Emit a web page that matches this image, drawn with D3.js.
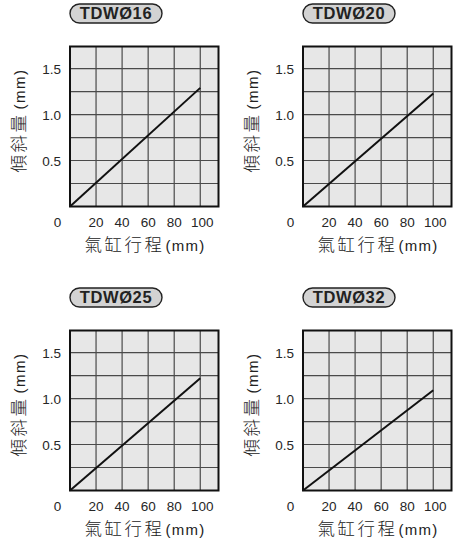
<!DOCTYPE html>
<html><head><meta charset="utf-8">
<script src="https://cdn.jsdelivr.net/npm/d3@7"></script>
<style>html,body{margin:0;padding:0;background:#fff;}svg{display:block;}</style>
</head><body>
<svg id="c" width="456" height="540"></svg>
<script>
// ---- data ----
const models = ["TDWØ16", "TDWØ20", "TDWØ25", "TDWØ32"];
const stroke = [0, 100];                 // 氣缸行程 (mm)
const tilt16 = [0, 1.29];                // 傾斜量 (mm)
const tilt20 = [0, 1.23];
const tilt25 = [0, 1.22];
const tilt32 = [0, 1.09];
const seriesList = [tilt16, tilt20, tilt25, tilt32];
const xTicks = [20, 40, 60, 80, 100];
const yGrid = [0.25, 0.5, 0.75, 1.0, 1.25, 1.5];
const yLabels = [0.5, 1.0, 1.5];
const xTitle = "氣缸行程";
const yTitle = "傾斜量";
const unit = "(mm)";

// ---- layout ----
const svg = d3.select("#c");
const W = 148.5, H = 160;
const origins = [[70, 46.5], [303, 46.5], [70, 330.5], [303, 330.5]];
const font = "'Liberation Sans', Arial, sans-serif";
const cjk = "'Noto Sans CJK TC', 'Noto Sans CJK SC', sans-serif";

models.forEach((name, i) => {
  const [L, T] = origins[i];
  const x = d3.scaleLinear().domain([0, 114]).range([L, L + W]);
  const y = d3.scaleLinear().domain([0, 1.74]).range([T + H, T]);
  const g = svg.append("g");

  // background
  g.append("rect").attr("x", L).attr("y", T).attr("width", W).attr("height", H)
    .attr("fill", "#e7e7e7");

  // grid
  g.selectAll(".vg").data(xTicks).join("line")
    .attr("x1", d => x(d)).attr("x2", d => x(d)).attr("y1", T).attr("y2", T + H)
    .attr("stroke", "#4a4a4a").attr("stroke-width", 1.2);
  g.selectAll(".hg").data(yGrid).join("line")
    .attr("y1", d => y(d)).attr("y2", d => y(d)).attr("x1", L).attr("x2", L + W)
    .attr("stroke", "#4a4a4a").attr("stroke-width", 1.2);

  // data line
  const pts = stroke.map((s, k) => [s, seriesList[i][k]]);
  g.append("path").datum(pts)
    .attr("d", d3.line().x(d => x(d[0])).y(d => y(d[1])))
    .attr("fill", "none").attr("stroke", "#111").attr("stroke-width", 2);

  // border
  g.append("rect").attr("x", L).attr("y", T).attr("width", W).attr("height", H)
    .attr("fill", "none").attr("stroke", "#111").attr("stroke-width", 2);

  // x tick labels
  g.selectAll(".xt").data(xTicks).join("text")
    .attr("x", d => x(d) + (d === 100 ? 2 : 0)).attr("y", y(0) + 20.3)
    .attr("text-anchor", "middle").attr("font-family", font).attr("font-size", 13.5)
    .attr("fill", "#262626").text(d => d);
  // origin label
  g.append("text").attr("x", x(0) - 12.5).attr("y", y(0) + 20.3)
    .attr("text-anchor", "middle").attr("font-family", font).attr("font-size", 13.5)
    .attr("fill", "#262626").text("0");

  // y tick labels
  g.selectAll(".yt").data(yLabels).join("text")
    .attr("x", L - 9).attr("y", d => y(d)).attr("dy", "0.4em")
    .attr("text-anchor", "end").attr("font-family", font).attr("font-size", 13.5)
    .attr("fill", "#262626").text(d => d.toFixed(1));

  // x title
  const xt = g.append("text").attr("x", L + 75).attr("y", y(0) + 44)
    .attr("text-anchor", "middle").attr("fill", "#222");
  xt.append("tspan").attr("font-family", cjk).attr("font-size", 17.5)
    .attr("font-weight", 300).attr("letter-spacing", 2.5).text(xTitle);
  xt.append("tspan").attr("font-family", font).attr("font-size", 15)
    .attr("letter-spacing", 1.2).attr("dx", 1).text(unit);

  // y title
  const cy = T + H / 2 - 6;
  const yt = g.append("text")
    .attr("transform", `translate(${L - 51},${cy}) rotate(-90)`)
    .attr("text-anchor", "middle").attr("dy", "0.36em").attr("fill", "#222");
  yt.append("tspan").attr("font-family", cjk).attr("font-size", 17.5)
    .attr("font-weight", 300).attr("letter-spacing", 2.5).text(yTitle);
  yt.append("tspan").attr("font-family", font).attr("font-size", 15)
    .attr("letter-spacing", 1.5).attr("dx", 3).text(unit);

  // model pill
  const pw = 92, ph = 19, pcy = T - 33;
  g.append("rect").attr("x", L).attr("y", pcy - ph / 2).attr("width", pw).attr("height", ph)
    .attr("rx", ph / 2).attr("ry", ph / 2)
    .attr("fill", "#d3d3d3").attr("stroke", "#222").attr("stroke-width", 1.4);
  g.append("text").attr("x", L + pw / 2).attr("y", pcy).attr("dy", "0.36em")
    .attr("text-anchor", "middle").attr("font-family", font).attr("font-weight", "bold")
    .attr("font-size", 16.5).attr("letter-spacing", 0.6).attr("fill", "#222").text(name);
});
</script>
</body></html>
